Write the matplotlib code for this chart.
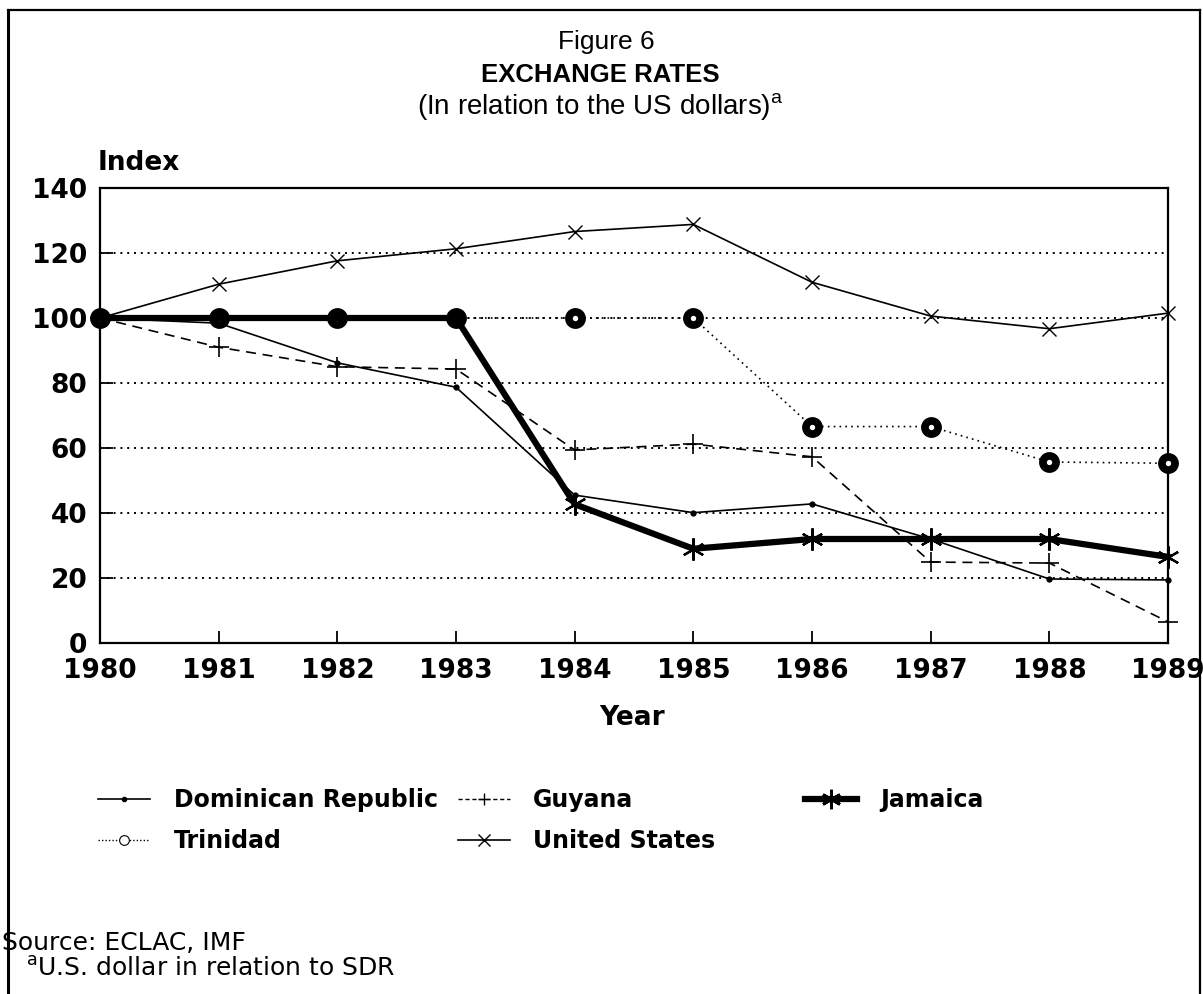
"""Figure 6 - exchange rates in relation to the US dollar, 1980-1989."""
import matplotlib
matplotlib.use("Agg")
import matplotlib.pyplot as plt
from matplotlib import font_manager
from matplotlib.lines import Line2D

YEARS = [1980, 1981, 1982, 1983, 1984, 1985, 1986, 1987, 1988, 1989]
DOMINICAN = [100, 98.4, 86.2, 78.7, 45.5, 40.1, 42.8, 32.0, 19.7, 19.4]
GUYANA = [100, 91.0, 85.0, 84.3, 59.4, 61.2, 57.3, 24.9, 24.6, 6.5]
JAMAICA = [100, 100, 100, 100, 42.7, 29.0, 32.0, 32.0, 32.0, 26.5]
TRINIDAD = [100, 100, 100, 100, 100, 100, 66.6, 66.6, 55.7, 55.3]
UNITED_STATES = [100, 110.4, 117.6, 121.3, 126.6, 128.8, 111.0, 100.6, 96.7, 101.5]
Y_TICKS = [0, 20, 40, 60, 80, 100, 120, 140]

W, H = 1203, 994
names = {f.name for f in font_manager.fontManager.ttflist}
NARROW = "Liberation Sans Narrow" if "Liberation Sans Narrow" in names else "Liberation Sans"
BODY = "DejaVu Sans"
plt.rcParams["font.family"] = BODY


def fx(px):
    return px / W


def fy(py):
    return 1 - py / H


fig = plt.figure(figsize=(W / 100, H / 100), dpi=100)
ax = fig.add_axes([fx(100), fy(643), fx(1168) - fx(100), fy(188) - fy(643)])

# Jamaica markers only where they don't sit under a Trinidad ring
jam_marks = [i for i, (j, t) in enumerate(zip(JAMAICA, TRINIDAD)) if j != t]

ax.plot(YEARS, DOMINICAN, color="black", lw=1.2, marker="o", ms=3.5, zorder=3,
        clip_on=False)
ax.plot(YEARS, GUYANA, color="black", lw=1.2, ls=(0, (6, 4)), marker="+", ms=14,
        mew=1.2, zorder=3, clip_on=False)
ax.plot(YEARS, UNITED_STATES, color="black", lw=1.2, marker="x", ms=10, mew=1.0, zorder=3,
        clip_on=False)
ax.plot(YEARS, TRINIDAD, color="black", lw=1.2, ls=(0, (1, 2.5)), marker="o", ms=9.5,
        mfc="white", mec="black", mew=5.5, zorder=4, clip_on=False)
ax.plot(YEARS, JAMAICA, color="black", lw=4.5, marker=(6, 2, 0), ms=16, mew=1.6,
        markevery=jam_marks, zorder=5, clip_on=False)

ax.set_xlim(1980, 1989)
ax.set_ylim(0, 140)
ax.set_xticks(YEARS)
ax.set_yticks(Y_TICKS)
ax.grid(axis="y", color="black", lw=1.4, ls=(0, (1, 2.5)))
ax.tick_params(direction="in", length=9, width=1.3, pad=9, labelsize=19)
ax.tick_params(axis="x", pad=11)
for lab in ax.get_xticklabels() + ax.get_yticklabels():
    lab.set_fontweight("bold")
for s in ax.spines.values():
    s.set_linewidth(1.6)

# titles
fig.text(fx(606), fy(42), "Figure 6", family=NARROW, fontsize=19, ha="center", va="center")
fig.text(fx(600), fy(75), "EXCHANGE RATES", family=NARROW, fontsize=18.5, fontweight="bold",
         ha="center", va="center")
fig.text(fx(600), fy(107), r"(In relation to the US dollars)$^{\mathregular{a}}$",
         family=NARROW, fontsize=20, ha="center", va="center")
fig.text(fx(98), fy(163), "Index", fontsize=19, fontweight="bold", ha="left", va="center")
fig.text(fx(632), fy(718), "Year", fontsize=19, fontweight="bold", ha="center", va="center")

# legend
h_dr = Line2D([], [], color="black", lw=1.2, marker="o", ms=3)
h_gy = Line2D([], [], color="black", lw=1.0, ls=(0, (3, 2)), marker="+", ms=9, mew=1.0)
h_tr = Line2D([], [], color="black", lw=1.0, ls=(0, (1, 1.5)), marker="o", ms=7,
              mfc="white", mec="black", mew=0.8)
h_us = Line2D([], [], color="black", lw=1.2, marker="x", ms=9, mew=1.0)
h_jm = Line2D([], [], color="black", lw=4.5, marker=(6, 2, 0), ms=14, mew=2.0)

leg_kw = dict(frameon=False, prop={"family": BODY, "weight": "bold", "size": 17},
              handlelength=2.2, handletextpad=1.0, borderpad=0, borderaxespad=0,
              labelspacing=0.72)
leg1 = fig.legend([h_dr, h_tr, h_gy, h_us],
                  ["Dominican Republic", "Trinidad", "Guyana", "United States"],
                  ncol=2, columnspacing=0.85, loc="upper left",
                  bbox_to_anchor=(fx(98), fy(788)), **leg_kw)
leg2 = fig.legend([h_jm], ["Jamaica"], loc="upper left",
                  bbox_to_anchor=(fx(805), fy(788)), **leg_kw)

# source and footnote
fig.text(fx(2), fy(943), "Source: ECLAC, IMF", fontsize=18, ha="left", va="center")
fig.text(fx(26), fy(969), r"$^{\mathregular{a}}$U.S. dollar in relation to SDR",
         fontsize=18, ha="left", va="center")

# page frame
fig.add_artist(Line2D([fx(8), fx(8)], [0, fy(10)], color="black", lw=2.2))
fig.add_artist(Line2D([fx(8), fx(1200)], [fy(10), fy(10)], color="black", lw=1.6))
fig.add_artist(Line2D([fx(1200), fx(1200)], [0, fy(10)], color="black", lw=1.6))

fig.savefig("out.png", dpi=100)
